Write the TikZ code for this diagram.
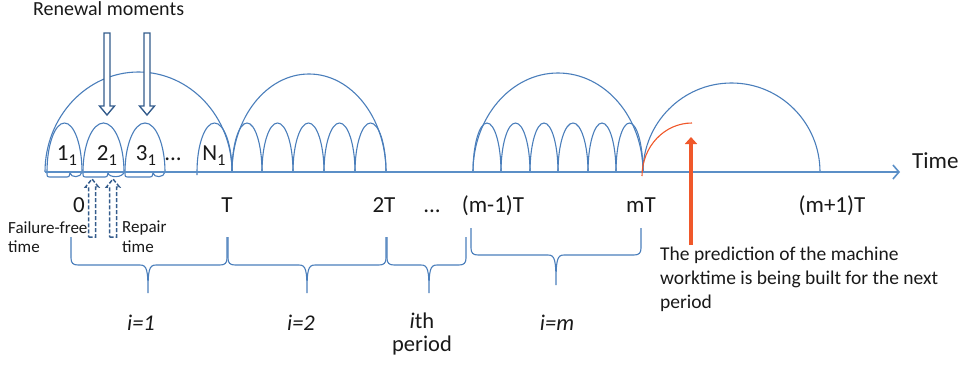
\documentclass[tikz,border=0pt]{standalone}
\usepackage{fontspec}
\setmainfont{Carlito}
\usetikzlibrary{arrows.meta}
\definecolor{arcblue}{RGB}{74,126,187}
\definecolor{axisblue}{RGB}{91,143,199}
\definecolor{deepblue}{RGB}{52,92,140}
\definecolor{predred}{RGB}{240,88,42}
\definecolor{txt}{RGB}{25,25,25}
\newcommand{\lowsub}[1]{\raisebox{-5pt}{\fontsize{16.5}{16.5}\selectfont #1}}
\newcommand{\curlybrace}[6]{% xl xr xm ytop yhoriz ybottom
 \draw[brace] (#1,#4) -- (#1,{#5+7}) .. controls (#1,{#5+2}) and ({#1+2},#5) .. ({#1+7},#5)
   -- ({#3-8},#5) .. controls ({#3-1},#5) and (#3,{#5-5}) .. (#3,#6)
   .. controls (#3,{#5-5}) and ({#3+1},#5) .. ({#3+8},#5)
   -- ({#2-7},#5) .. controls ({#2-2},#5) and (#2,{#5+2}) .. (#2,{#5+7}) -- (#2,#4);}
\begin{document}
\begin{tikzpicture}[x=1pt,y=1pt,
  arcline/.style={draw=arcblue,line width=1.1pt},
  axisline/.style={draw=axisblue,line width=1.6pt,-{Straight Barb[length=6pt,width=14pt]}},
  brace/.style={draw=arcblue,line width=1.1pt},
  lbl/.style={inner sep=0pt,text=txt,font=\fontsize{23}{27}\selectfont},
  sublbl/.style={inner sep=0pt,text=txt,font=\fontsize{23}{27}\selectfont},
  headlbl/.style={inner sep=0pt,text=txt,font=\fontsize{20}{24}\selectfont},
  small/.style={inner sep=0pt,text=txt,align=left,font=\fontsize{17}{19.5}\selectfont},
  note/.style={inner sep=0pt,text=txt,align=left,font=\fontsize{19.5}{24}\selectfont},
  idx/.style={inner sep=0pt,text=txt,font=\fontsize{22.5}{22.5}\selectfont\itshape},
  periodlbl/.style={inner sep=0pt,text=txt,align=center,font=\fontsize{22.5}{23}\selectfont},
  renewarrow/.pic={\draw[draw=deepblue,fill=white,line width=1.4pt] (-3,0) -- (3,0) -- (3,-73) -- (7.5,-73) -- (0,-82) -- (-7.5,-73) -- (-3,-73) -- cycle;},
  gaparrow/.pic={\draw[draw=deepblue,line width=1.5pt,dash pattern=on 4pt off 2pt] (-3.5,0) -- (3.5,0) -- (3.5,50) -- (6.5,50) -- (0,58) -- (-6.5,50) -- (-3.5,50) -- cycle;},
  redarrow/.style={draw=predred,line width=4.5pt,-{Triangle[length=7pt,width=12pt]}}
]
\useasboundingbox (0,0) rectangle (971,-364);

% big period arches
\draw[arcline] (45,-172) arc[start angle=180,end angle=0,x radius=93.5,y radius=100];
\draw[arcline] (232,-172) arc[start angle=180,end angle=0,x radius=77,y radius=98];
\draw[arcline] (473,-172) arc[start angle=180,end angle=0,x radius=85,y radius=99];
\draw[arcline] (643,-172) arc[start angle=180,end angle=0,x radius=88.5,y radius=89];

% period 1 cycles (failure-free arch + repair lobe)
\foreach \a/\b/\c in {47/70/82, 83/108/124, 125/153/165} {
  \pgfmathsetmacro\rx{(\c-\a)/2}
  \draw[arcline] (\a,-172) arc[start angle=180,end angle=0,x radius=\rx,y radius=49]
     .. controls (\c-1,-178) and (\b+1,-178) .. (\b,-173)
     .. controls (\b-1,-177) .. (\b-3,-177) -- (\a+4,-177) .. controls (\a,-177) .. (\a,-172);
}
\draw[arcline] (197,-175) -- (197,-172) arc[start angle=180,end angle=0,x radius=17.5,y radius=49];

% period 2 cycles
\foreach \a/\c in {232/262, 262/293, 293/324, 324/355, 355/386} {
  \pgfmathsetmacro\rx{(\c-\a)/2}
  \draw[arcline] (\a,-172) arc[start angle=180,end angle=0,x radius=\rx,y radius=49];
}
% period m cycles
\foreach \a/\c in {473/501, 501/530, 530/558, 558/588, 588/616, 616/643} {
  \pgfmathsetmacro\rx{(\c-\a)/2}
  \draw[arcline] (\a,-172) arc[start angle=180,end angle=0,x radius=\rx,y radius=49];
}

% time axis
\coordinate (axL) at (45,-172);
\coordinate (axR) at (900,-172);
\draw[axisline] (axL) -- (axR);
\node[lbl,anchor=base west] (time) at (912,-168) {Time};

% prediction curve
\draw[draw=predred,line width=1.1pt] (642,-176) arc[start angle=180,end angle=90,x radius=50,y radius=53];

% renewal arrows
\node[headlbl,anchor=base west] (renew) at (33,-15) {Renewal moments};
\pic (ren1) at (107,-33) {renewarrow};
\pic (ren2) at (147,-33) {renewarrow};

% failure-free / repair arrows
\pic (gap1) at (92,-237) {gaparrow};
\pic (gap2) at (113,-237) {gaparrow};

% cycle labels
\node[sublbl,anchor=base] (c1) at (67,-160) {1\lowsub{1}};
\node[sublbl,anchor=base] (c2) at (107,-160) {2\lowsub{1}};
\node[sublbl,anchor=base] (c3) at (146,-160) {3\lowsub{1}};
\node[sublbl,anchor=base] (cdots) at (173,-160) {...};
\node[sublbl,anchor=base] (cN) at (214,-160) {N\lowsub{1}};

% axis labels
\node[lbl,anchor=base] (t0) at (79,-212) {0};
\node[lbl,anchor=base] (t1) at (227,-212) {T};
\node[lbl,anchor=base] (t2) at (384,-212) {2T};
\node[lbl,anchor=base] (tdots) at (432,-212) {...};
\node[lbl,anchor=base] (tm1) at (493,-212) {(m-1)T};
\node[lbl,anchor=base] (tm) at (641,-212) {mT};
\node[lbl,anchor=base] (tmp1) at (832,-212) {(m+1)T};

% small notes
\node[small,anchor=north west] (ff) at (8,-221) {Failure-free\\time};
\node[small,anchor=north west] (rep) at (122,-221) {Repair\\time};

% prediction note and arrow
\node[note,anchor=north west] (pred) at (660,-247) {The prediction of the machine\\worktime is being built for the next\\period};
\coordinate (redtip) at (691,-137);
\draw[redarrow] ([yshift=2pt]pred.north -| redtip) -- (redtip);

% braces
\curlybrace{71}{227}{148}{-237}{-265}{-293}
\curlybrace{228}{386}{307}{-237}{-265}{-293}
\curlybrace{387}{466}{429}{-237}{-265}{-293}
\curlybrace{471}{641}{556}{-228}{-255}{-285}

% period labels
\node[idx,anchor=base] (i1) at (141,-330) {i=1};
\node[idx,anchor=base] (i2) at (301,-330) {i=2};
\node[periodlbl,anchor=north] (ith) at (422,-313) {\textit{i}th\\period};
\node[idx,anchor=base] (im) at (557,-330) {i=m};
\end{tikzpicture}
\end{document}
